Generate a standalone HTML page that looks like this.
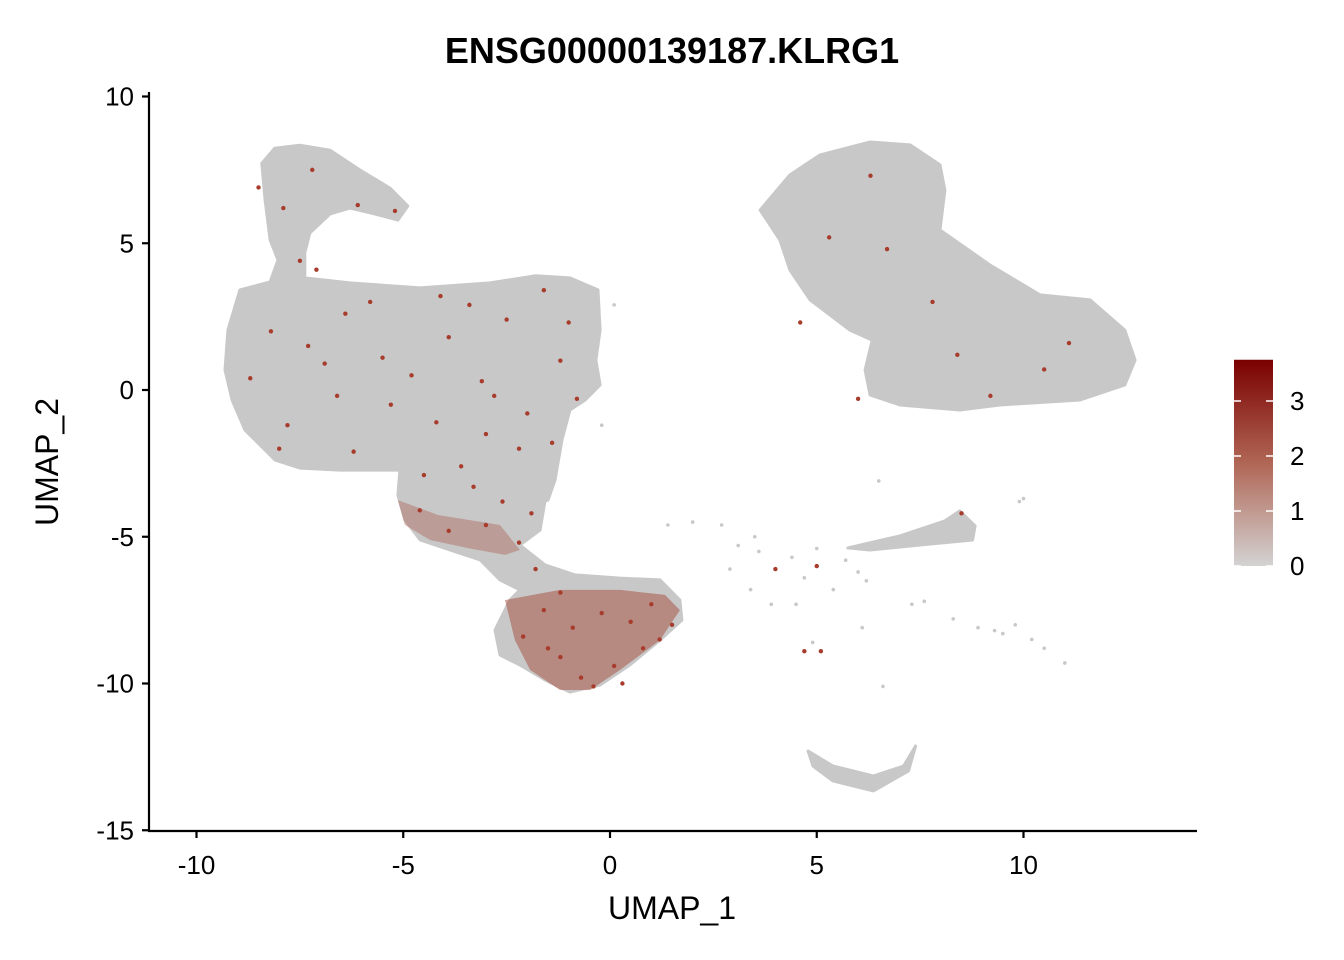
<!DOCTYPE html>
<html><head><meta charset="utf-8"><style>
body{margin:0;background:#fff}
svg{display:block;font-family:"Liberation Sans",Arial,sans-serif}
</style></head><body>
<svg id="chart" width="1344" height="960" xmlns="http://www.w3.org/2000/svg">
<defs><linearGradient id="cb" x1="0" y1="1" x2="0" y2="0">
<stop offset="0" stop-color="#d3d3d3"/><stop offset="0.5" stop-color="#b06655"/><stop offset="1" stop-color="#7a0000"/></linearGradient></defs>
<text x="672" y="63" text-anchor="middle" font-size="36" font-weight="bold">ENSG00000139187.KLRG1</text>
<g id="plot"></g>
<g id="axes"></g>
</svg>
<script>
const xTicks=[-10,-5,0,5,10];
const yTicks=[10,5,0,-5,-10,-15];
const cbTicks=[0,1,2,3];
const cbMax=3.75;
// cluster outlines in UMAP coordinates
const clusterMain=[[-8.42,7.72],[-8.11,8.24],[-7.50,8.34],[-6.77,8.17],[-6.05,7.50],[-5.32,6.88],[-4.89,6.27],[-5.13,5.79],[-5.69,6.00],[-6.29,6.20],[-6.77,6.00],[-7.26,5.35],[-7.38,4.67],[-7.38,3.82],[-6.29,3.65],[-4.59,3.48],[-2.90,3.65],[-1.81,3.89],[-0.97,3.82],[-0.29,3.41],[-0.24,2.04],[-0.34,1.02],[-0.24,0.17],[-0.60,-0.34],[-0.97,-0.68],[-1.16,-1.70],[-1.33,-3.07],[-1.50,-3.75],[-1.93,-3.92],[-2.66,-3.58],[-3.39,-2.98],[-4.11,-2.64],[-4.84,-2.73],[-5.56,-2.73],[-6.53,-2.73],[-7.50,-2.66],[-8.10,-2.39],[-8.83,-1.36],[-9.14,-0.34],[-9.31,0.68],[-9.24,2.04],[-8.95,3.41],[-8.22,3.68],[-8.03,4.43],[-8.22,5.11],[-8.34,6.47]];
const clusterLow=[[-5.08,-2.73],[-3.63,-2.66],[-2.18,-2.73],[-1.57,-3.75],[-1.69,-4.77],[-2.18,-5.28],[-1.57,-5.96],[-0.85,-6.30],[0.24,-6.41],[1.21,-6.47],[1.69,-7.16],[1.74,-7.84],[1.21,-8.52],[0.48,-9.37],[-0.24,-10.05],[-0.97,-10.29],[-1.57,-9.88],[-2.18,-9.37],[-2.66,-9.03],[-2.78,-8.18],[-2.42,-7.16],[-2.18,-6.81],[-2.66,-6.47],[-3.14,-5.79],[-3.87,-5.45],[-4.59,-5.11],[-4.96,-4.43],[-5.13,-3.58]];
const clusterRight=[[3.63,6.13],[4.35,7.33],[5.08,8.01],[6.29,8.45],[7.26,8.35],[7.98,7.67],[8.10,6.81],[7.98,5.45],[9.19,4.26],[10.40,3.24],[11.61,3.07],[12.45,2.04],[12.70,1.02],[12.45,0.17],[11.37,-0.34],[9.43,-0.51],[8.46,-0.68],[7.01,-0.51],[6.29,-0.17],[6.17,0.68],[6.34,1.70],[5.80,2.04],[4.84,3.07],[4.35,4.09],[4.11,5.11]];
const clusterStrip=[[5.75,-5.38],[7.01,-4.97],[8.10,-4.46],[8.46,-4.12],[8.83,-4.63],[8.77,-5.11],[7.50,-5.28],[6.29,-5.45]];
const clusterBottom=[[4.79,-12.30],[5.39,-12.81],[6.37,-13.15],[7.10,-12.81],[7.39,-12.13],[7.22,-12.98],[6.37,-13.66],[5.39,-13.32],[4.91,-12.81]];
const highRegions=[[[-5.13,-3.75],[-4.16,-4.26],[-2.66,-4.60],[-2.18,-5.45],[-2.54,-5.62],[-3.39,-5.40],[-4.35,-5.11],[-4.96,-4.60]],
[[-2.54,-7.16],[-1.21,-6.81],[0.24,-6.81],[1.33,-6.98],[1.69,-7.50],[1.21,-8.52],[0.24,-9.54],[-0.48,-10.22],[-1.21,-10.22],[-1.93,-9.54],[-2.30,-8.52]]];
const highAlpha=[0.35,0.5];
const grayPoints=[[2.7,-4.6],[3.1,-5.3],[3.6,-5.5],[4.4,-5.7],[5.0,-5.4],[4.7,-6.4],[3.4,-6.8],[5.7,-5.8],[6.2,-6.5],[7.3,-7.3],[8.3,-7.8],[9.5,-8.3],[10.2,-8.5],[11.0,-9.3],[9.8,-8.0],[6.5,-3.1],[5.4,-6.8],[6.6,-10.1],[4.9,-8.6],[4.5,-7.3],[10.0,-3.7],[6.1,-8.1],[2.9,-6.1],[3.9,-7.3],[2.0,-4.5],[7.6,-7.2],[8.9,-8.1],[9.3,-8.2],[10.5,-8.8],[1.4,-4.6],[-0.2,-1.2],[0.1,2.9],[3.5,-5.0],[6.0,-6.2],[9.9,-3.8]];
const redPoints=[[-8.5,6.9],[-7.9,6.2],[-7.2,7.5],[-6.1,6.3],[-5.2,6.1],[-7.5,4.4],[-7.1,4.1],[-8.2,2.0],[-7.3,1.5],[-6.4,2.6],[-5.5,1.1],[-4.8,0.5],[-3.9,1.8],[-3.1,0.3],[-2.5,2.4],[-1.6,3.4],[-1.2,1.0],[-0.8,-0.3],[-2.0,-0.8],[-3.0,-1.5],[-4.2,-1.1],[-5.3,-0.5],[-6.6,-0.2],[-7.8,-1.2],[-8.7,0.4],[-6.2,-2.1],[-3.6,-2.6],[-2.2,-2.0],[-1.4,-1.8],[-4.5,-2.9],[-3.3,-3.3],[-2.6,-3.8],[-1.9,-4.2],[-8.0,-2.0],[-5.8,3.0],[-4.1,3.2],[-3.4,2.9],[-6.9,0.9],[-2.8,-0.2],[-1.0,2.3],[-4.6,-4.1],[-3.9,-4.8],[-3.0,-4.6],[-2.2,-5.2],[-1.8,-6.1],[-1.2,-6.9],[-1.6,-7.5],[-0.9,-8.1],[-0.2,-7.6],[0.5,-7.9],[1.0,-7.3],[1.5,-8.0],[0.8,-8.8],[0.1,-9.4],[-0.7,-9.8],[-1.2,-9.1],[-2.1,-8.4],[0.3,-10.0],[-0.4,-10.1],[1.2,-8.5],[-1.5,-8.8],[5.3,5.2],[6.3,7.3],[6.7,4.8],[7.8,3.0],[8.4,1.2],[10.5,0.7],[4.6,2.3],[9.2,-0.2],[11.1,1.6],[6.0,-0.3],[8.5,-4.2],[4.7,-8.9],[5.1,-8.9],[5.0,-6.0],[4.0,-6.1]];

const X=v=>610+v*41.35, Y=v=>390-v*29.35;
const NS="http://www.w3.org/2000/svg";
const plot=document.getElementById('plot'), axes=document.getElementById('axes');
function mk(tag,attrs,parent){const e=document.createElementNS(NS,tag);for(const k in attrs)e.setAttribute(k,attrs[k]);parent.appendChild(e);return e;}
const pts=a=>a.map(p=>X(p[0]).toFixed(1)+','+Y(p[1]).toFixed(1)).join(' ');
[[clusterMain,'cluster-main'],[clusterLow,'cluster-lower'],[clusterRight,'cluster-right'],[clusterStrip,'cluster-strip'],[clusterBottom,'cluster-bottom']].forEach(([c,n])=>{
 const e=mk('polygon',{points:pts(c),fill:'#c8c8c8',stroke:'#c8c8c8','stroke-width':3,'stroke-linejoin':'round'},plot);
 
 
});
highRegions.forEach((c,i)=>{
 const e=mk('polygon',{points:pts(c),fill:'#a34a3a','fill-opacity':highAlpha[i],stroke:'none'},plot);
 
 
});
grayPoints.forEach(p=>{
 const e=mk('circle',{cx:X(p[0]),cy:Y(p[1]),r:1.8,fill:'#c8c8c8'},plot);
 
 
});
redPoints.forEach(p=>{
 const e=mk('circle',{cx:X(p[0]),cy:Y(p[1]),r:2.2,fill:'#a83c2c'},plot);
 
 
});
// axes
let e=mk('line',{x1:149,y1:92,x2:149,y2:832,stroke:'#000','stroke-width':2.2},axes);


e=mk('line',{x1:148,y1:831,x2:1197,y2:831,stroke:'#000','stroke-width':2.2},axes);


xTicks.forEach(t=>{
 mk('line',{x1:X(t),y1:831,x2:X(t),y2:838,stroke:'#000','stroke-width':2.2},axes);
 const l=mk('text',{x:X(t),y:874,'text-anchor':'middle','font-size':26},axes);l.textContent=t;
 
 
});
yTicks.forEach(t=>{
 mk('line',{x1:142,y1:Y(t),x2:149,y2:Y(t),stroke:'#000','stroke-width':2.2},axes);
 const l=mk('text',{x:134,y:Y(t)+9,'text-anchor':'end','font-size':26},axes);l.textContent=t;
 
 
});
e=mk('text',{x:672,y:919,'text-anchor':'middle','font-size':32},axes);e.textContent='UMAP_1';


e=mk('text',{x:58,y:462,'text-anchor':'middle','font-size':32,transform:'rotate(-90 58 462)'},axes);e.textContent='UMAP_2';


// colorbar
const CB=v=>566-v*55;
e=mk('rect',{x:1234,y:CB(cbMax),width:39,height:CB(0)-CB(cbMax),fill:'url(#cb)'},axes);


cbTicks.forEach(t=>{
 mk('line',{x1:1234,y1:CB(t),x2:1241,y2:CB(t),stroke:'#fff','stroke-width':1.5},axes);
 mk('line',{x1:1266,y1:CB(t),x2:1273,y2:CB(t),stroke:'#fff','stroke-width':1.5},axes);
 const l=mk('text',{x:1290,y:CB(t)+9,'font-size':26},axes);l.textContent=t;
 
 
});
</script>
</body></html>
